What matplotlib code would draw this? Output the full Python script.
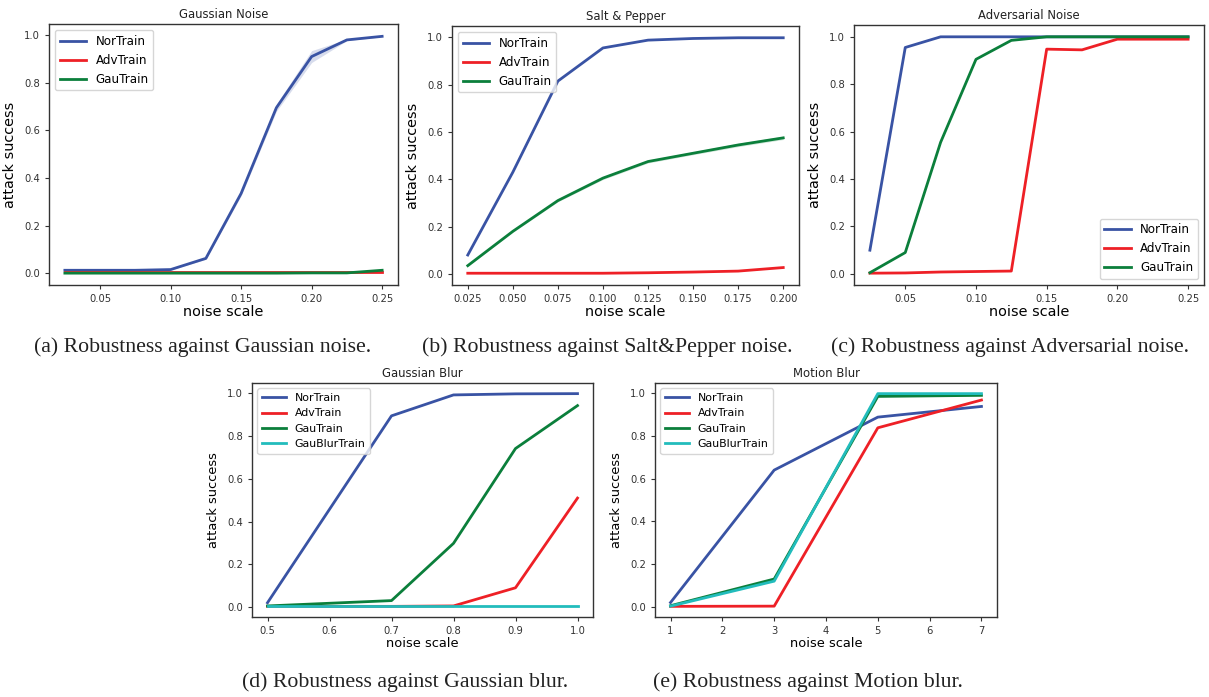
import matplotlib.pyplot as plt
import numpy as np

W, H = 1209, 697

C_NOR = "#3953a4"
C_ADV = "#ee2026"
C_GAU = "#0b7f3b"
C_BLUR = "#22bcbc"

# (a) Gaussian noise
x_gauss = [0.025, 0.05, 0.075, 0.1, 0.125, 0.15, 0.175, 0.2, 0.225, 0.25]
a_nor = [0.012, 0.012, 0.012, 0.015, 0.062, 0.335, 0.695, 0.91, 0.98, 0.995]
a_nor_lo = [0.010, 0.010, 0.010, 0.013, 0.058, 0.325, 0.68, 0.885, 0.977, 0.993]
a_nor_hi = [0.014, 0.014, 0.014, 0.017, 0.066, 0.345, 0.71, 0.935, 0.983, 0.997]
a_adv = [0.005, 0.005, 0.005, 0.005, 0.005, 0.005, 0.005, 0.005, 0.005, 0.005]
a_gau = [0.0, 0.0, 0.0, 0.0, 0.0, 0.0, 0.0, 0.001, 0.001, 0.012]

# (b) Salt & Pepper
x_sp = [0.025, 0.05, 0.075, 0.1, 0.125, 0.15, 0.175, 0.2]
b_nor = [0.08, 0.43, 0.815, 0.955, 0.988, 0.995, 0.998, 0.998]
b_adv = [0.003, 0.003, 0.003, 0.003, 0.005, 0.008, 0.012, 0.027]
b_gau = [0.035, 0.18, 0.31, 0.405, 0.475, 0.51, 0.545, 0.575]
b_gau_lo = [0.032, 0.176, 0.305, 0.399, 0.469, 0.504, 0.538, 0.568]
b_gau_hi = [0.038, 0.184, 0.315, 0.411, 0.481, 0.516, 0.552, 0.582]

# (c) Adversarial noise
x_adv = [0.025, 0.05, 0.075, 0.1, 0.125, 0.15, 0.175, 0.2, 0.225, 0.25]
c_nor = [0.1, 0.955, 1.0, 1.0, 1.0, 1.0, 1.0, 1.0, 1.0, 1.0]
c_adv = [0.003, 0.004, 0.008, 0.01, 0.012, 0.948, 0.945, 0.99, 0.99, 0.99]
c_gau = [0.005, 0.09, 0.555, 0.905, 0.985, 1.0, 1.0, 1.0, 1.0, 1.0]

# (d) Gaussian blur
x_gblur = [0.5, 0.7, 0.8, 0.9, 1.0]
d_nor = [0.02, 0.895, 0.993, 0.998, 0.999]
d_adv = [0.003, 0.003, 0.005, 0.09, 0.51]
d_gau = [0.005, 0.03, 0.298, 0.742, 0.943]
d_blur = [0.005, 0.005, 0.005, 0.005, 0.005]

# (e) Motion blur
x_mblur = [1, 3, 5, 7]
e_nor = [0.02, 0.64, 0.888, 0.938]
e_adv = [0.002, 0.003, 0.838, 0.968]
e_gau = [0.005, 0.13, 0.985, 0.99]
e_blur = [0.003, 0.12, 0.998, 0.998]


def add_ax(fig, left, right, top, bottom):
    return fig.add_axes([left / W, 1 - bottom / H, (right - left) / W, (bottom - top) / H])


def caption(fig, text, xc, yc):
    fig.text(xc / W, 1 - yc / H, text, ha="center", va="center",
             fontsize=15.7, family="Liberation Serif", color="#222222")


def style(ax, title, legend_loc="upper left", legend_fs=8.6, label_fs=10.4):
    ax.set_title(title, fontsize=8.4, pad=4, color="#222222")
    ax.set_xlabel("noise scale", fontsize=label_fs, labelpad=1)
    ax.set_ylabel("attack success", fontsize=label_fs, labelpad=5)
    ax.set_yticks([0.0, 0.2, 0.4, 0.6, 0.8, 1.0])
    ax.tick_params(labelsize=7.2, colors="#333333", length=3, width=0.8)
    for s in ax.spines.values():
        s.set_color("#333333")
        s.set_linewidth(1.0)
    ax.legend(loc=legend_loc, fontsize=legend_fs, handlelength=2.2)


fig = plt.figure(figsize=(W / 100, H / 100), dpi=100)

ax = add_ax(fig, 49, 398, 24, 285)
ax.fill_between(x_gauss, a_nor_lo, a_nor_hi, color=C_NOR, alpha=0.2, lw=0)
ax.plot(x_gauss, a_nor, color=C_NOR, lw=2, label="NorTrain")
ax.plot(x_gauss, a_adv, color=C_ADV, lw=2, label="AdvTrain")
ax.plot(x_gauss, a_gau, color=C_GAU, lw=2, label="GauTrain")
ax.set_xticks([0.05, 0.10, 0.15, 0.20, 0.25])
style(ax, "Gaussian Noise")
caption(fig, "(a) Robustness against Gaussian noise.", 203, 347)

ax = add_ax(fig, 452, 799, 26, 285)
ax.fill_between(x_sp, b_gau_lo, b_gau_hi, color=C_GAU, alpha=0.2, lw=0)
ax.plot(x_sp, b_nor, color=C_NOR, lw=2, label="NorTrain")
ax.plot(x_sp, b_adv, color=C_ADV, lw=2, label="AdvTrain")
ax.plot(x_sp, b_gau, color=C_GAU, lw=2, label="GauTrain")
ax.set_xticks(x_sp)
ax.set_xticklabels([f"{v:.3f}" for v in x_sp])
style(ax, "Salt & Pepper")
caption(fig, "(b) Robustness against Salt&Pepper noise.", 607, 347)

ax = add_ax(fig, 854, 1204, 25, 285)
ax.plot(x_adv, c_nor, color=C_NOR, lw=2, label="NorTrain")
ax.plot(x_adv, c_adv, color=C_ADV, lw=2, label="AdvTrain")
ax.plot(x_adv, c_gau, color=C_GAU, lw=2, label="GauTrain")
ax.set_xticks([0.05, 0.10, 0.15, 0.20, 0.25])
style(ax, "Adversarial Noise", legend_loc="lower right")
caption(fig, "(c) Robustness against Adversarial noise.", 1010, 347)

ax = add_ax(fig, 252, 593, 383, 617)
ax.plot(x_gblur, d_nor, color=C_NOR, lw=2, label="NorTrain")
ax.plot(x_gblur, d_adv, color=C_ADV, lw=2, label="AdvTrain")
ax.plot(x_gblur, d_gau, color=C_GAU, lw=2, label="GauTrain")
ax.plot(x_gblur, d_blur, color=C_BLUR, lw=2, label="GauBlurTrain")
ax.set_xticks([0.5, 0.6, 0.7, 0.8, 0.9, 1.0])
style(ax, "Gaussian Blur", legend_fs=7.9, label_fs=9.4)
caption(fig, "(d) Robustness against Gaussian blur.", 405, 682)

ax = add_ax(fig, 655, 997, 383, 617)
ax.plot(x_mblur, e_nor, color=C_NOR, lw=2, label="NorTrain")
ax.plot(x_mblur, e_adv, color=C_ADV, lw=2, label="AdvTrain")
ax.plot(x_mblur, e_gau, color=C_GAU, lw=2, label="GauTrain")
ax.plot(x_mblur, e_blur, color=C_BLUR, lw=2, label="GauBlurTrain")
ax.set_xticks([1, 2, 3, 4, 5, 6, 7])
style(ax, "Motion Blur", legend_fs=7.9, label_fs=9.4)
caption(fig, "(e) Robustness against Motion blur.", 808, 682)

fig.savefig("out.png", dpi=100)
